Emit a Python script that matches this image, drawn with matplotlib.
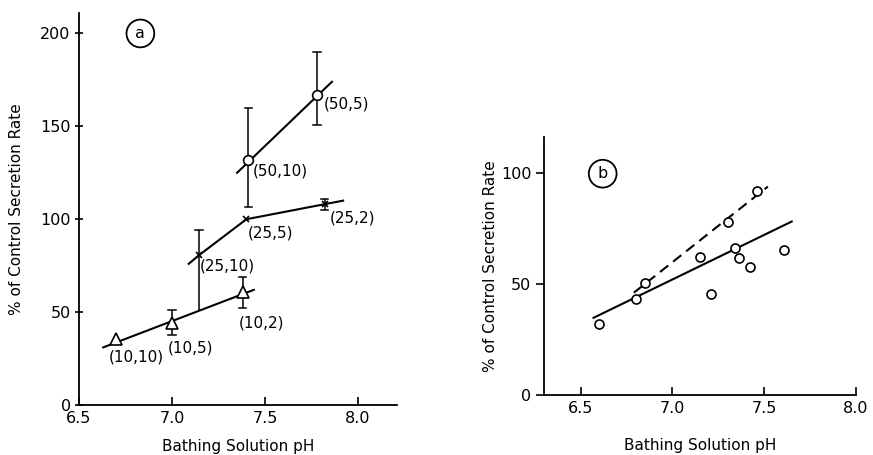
import matplotlib
matplotlib.use('Agg')
import matplotlib.pyplot as plt

plt.rcParams['font.family'] = 'DejaVu Sans'

# panel a: (pH, % rate, err low, err high)
tri_ph = [6.70, 7.00, 7.38]
tri_y = [35.5, 44, 61]
tri_lo = [None, 37.6, 52]
tri_hi = [None, 51, 69]
tri_labels = ['(10,10)', '(10,5)', '(10,2)']
tri_fit_x = [6.63, 7.44]
tri_fit_y = [31, 62]

x_ph = [7.145, 7.40, 7.82]
x_y = [80.6, 100, 108]
x_lo = [51, None, 105]
x_hi = [94, None, 111]
x_labels = ['(25,10)', '(25,5)', '(25,2)']
x_line_x = [7.09, 7.145, 7.40, 7.92]
x_line_y = [76, 80.6, 100, 110]

c_ph = [7.41, 7.78]
c_y = [132, 166.7]
c_lo = [106.5, 150.5]
c_hi = [160, 190]
c_labels = ['(50,10)', '(50,5)']
c_fit_x = [7.35, 7.86]
c_fit_y = [125, 174]

# panel b
b_ph = [6.60, 6.80, 6.85, 7.15, 7.21, 7.30, 7.34, 7.36, 7.42, 7.46, 7.61]
b_y = [32, 43, 50.5, 62, 45.5, 78, 66, 61.7, 57.7, 91.5, 65.3]
b_solid_x = [6.57, 7.65]
b_solid_y = [34.7, 78]
b_dash_x = [6.79, 7.52]
b_dash_y = [46, 93.7]

fig = plt.figure(figsize=(8.73, 4.55), dpi=100)
axa = fig.add_axes([0.0905, 0.1099, 0.3643, 0.8615])
axb = fig.add_axes([0.6231, 0.1319, 0.3574, 0.567])

fs = 11.5
lw = 1.5


def errbars(ax, xs, los, his, caps_lo=None):
    for i, (xv, lo, hi) in enumerate(zip(xs, los, his)):
        if lo is None:
            continue
        ax.vlines(xv, lo, hi, color='k', lw=1.1, zorder=2)
        ax.plot([xv - 0.02, xv + 0.02], [hi, hi], color='k', lw=1.1)
        if caps_lo is None or caps_lo[i]:
            ax.plot([xv - 0.02, xv + 0.02], [lo, lo], color='k', lw=1.1)


def style(ax, ydir, xpad, ypad):
    for s in ['top', 'right']:
        ax.spines[s].set_visible(False)
    for s in ['left', 'bottom']:
        ax.spines[s].set_linewidth(1.3)
    ax.tick_params(axis='x', direction='in', length=6, width=1.2,
                   labelsize=fs, pad=4)
    ax.tick_params(axis='y', direction=ydir, length=6, width=1.2,
                   labelsize=fs, pad=3)
    ax.set_xlabel('Bathing Solution pH', fontsize=fs - 0.5, labelpad=xpad)
    ax.set_ylabel('% of Control Secretion Rate', fontsize=fs - 0.5, labelpad=ypad)


# ---- panel a
axa.plot(tri_fit_x, tri_fit_y, color='k', lw=lw)
axa.plot(x_line_x, x_line_y, color='k', lw=lw)
axa.plot(c_fit_x, c_fit_y, color='k', lw=lw)
errbars(axa, tri_ph, tri_lo, tri_hi)
errbars(axa, x_ph, x_lo, x_hi, caps_lo=[False, True, True])
errbars(axa, c_ph, c_lo, c_hi)
axa.plot(tri_ph, tri_y, ls='none', marker='^', ms=8, mfc='white', mec='k', mew=1.2, zorder=3)
axa.plot(x_ph, x_y, ls='none', marker='x', ms=4, mec='k', mew=1.2, zorder=3)
axa.plot(c_ph, c_y, ls='none', marker='o', ms=7, mfc='white', mec='k', mew=1.2, zorder=3)

lab_pos_a = [(6.81, 25.8), (7.10, 30.6), (7.48, 44),
             (7.30, 75), (7.53, 92.5), (7.97, 100.5),
             (7.58, 126), (7.94, 162)]
for t, (px, py) in zip(tri_labels + x_labels + c_labels, lab_pos_a):
    axa.text(px, py, t, ha='center', va='center', fontsize=fs - 0.5)

axa.text(6.83, 200, 'a', ha='center', va='center', fontsize=fs,
         bbox=dict(boxstyle='circle,pad=0.4', fc='white', ec='k', lw=1.3))

axa.set_xlim(6.5, 8.21)
axa.set_ylim(0, 211)
axa.set_xticks([6.5, 7.0, 7.5, 8.0])
axa.set_xticklabels(['6.5', '7.0', '7.5', '8.0'])
axa.set_yticks([0, 50, 100, 150, 200])
style(axa, 'inout', 10, 12)

# ---- panel b
axb.plot(b_solid_x, b_solid_y, color='k', lw=lw)
axb.plot(b_dash_x, b_dash_y, color='k', lw=lw, ls=(0, (5, 3)))
axb.plot(b_ph, b_y, ls='none', marker='o', ms=6.5, mfc='white', mec='k', mew=1.2, zorder=3)
axb.text(6.62, 99.5, 'b', ha='center', va='center', fontsize=fs,
         bbox=dict(boxstyle='circle,pad=0.4', fc='white', ec='k', lw=1.3))

axb.set_xlim(6.3, 8.0)
axb.set_ylim(0, 116)
axb.set_xticks([6.5, 7.0, 7.5, 8.0])
axb.set_xticklabels(['6.5', '7.0', '7.5', '8.0'])
axb.set_yticks([0, 50, 100])
style(axb, 'out', 16, 2)

fig.savefig('out.png', dpi=100)
